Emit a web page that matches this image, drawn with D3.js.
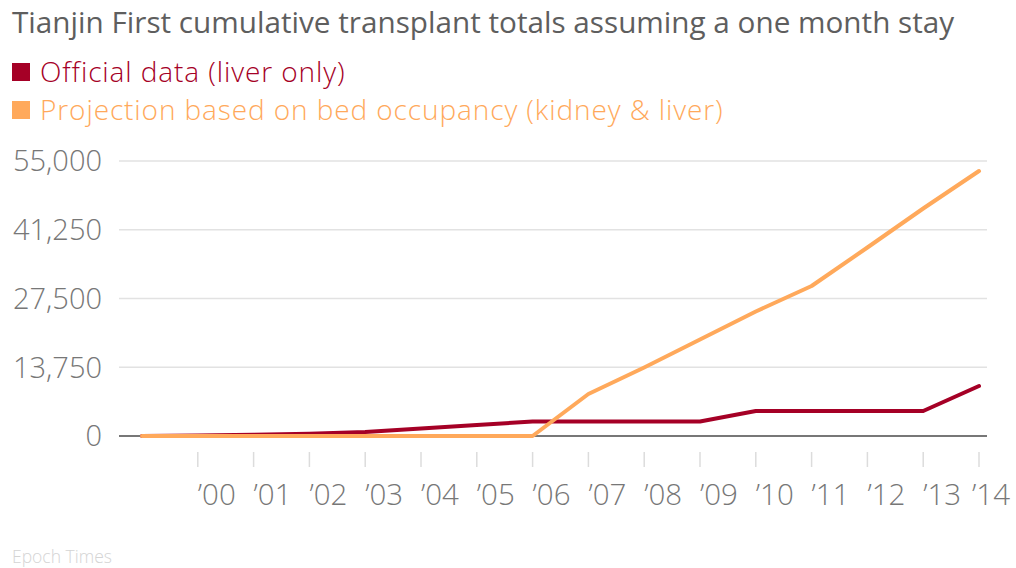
<!DOCTYPE html>
<html lang="en">
<head>
<meta charset="utf-8" />
<title>Tianjin First cumulative transplant totals</title>
<style>
  body { margin: 0; background: #fff; }
  svg text { font-family: "Open Sans", sans-serif; }
</style>
</head>
<body>
<div id="chart"></div>
<script src="https://d3js.org/d3.v7.min.js"></script>
<script>
  const years = [1999, 2000, 2001, 2002, 2003, 2004, 2005, 2006, 2007, 2008, 2009, 2010, 2011, 2012, 2013, 2014];
  const official = [0, 100, 250, 450, 800, 1500, 2200, 2900, 2900, 2900, 2900, 5000, 5000, 5000, 5000, 10000];
  const projection = [0, 0, 0, 0, 0, 0, 0, 0, 8400, 13700, 19300, 24900, 30000, 37700, 45500, 53000];
  const yTicks = [0, 13750, 27500, 41250, 55000];
  const xTicks = [2000, 2001, 2002, 2003, 2004, 2005, 2006, 2007, 2008, 2009, 2010, 2011, 2012, 2013, 2014];

  const width = 1016, height = 568;
  const red = "#a50026", orange = "#ffa95b";

  const svg = d3.select("#chart").append("svg")
      .attr("width", width)
      .attr("height", height);

  const x = d3.scaleLinear().domain([1999, 2014]).range([142, 979]);
  const y = d3.scaleLinear().domain([0, 55000]).range([436, 161]);

  // title + legend
  svg.append("text")
      .attr("x", 12).attr("y", 33)
      .attr("font-size", 29.7)
      .attr("fill", "#5e5e5e")
      .text("Tianjin First cumulative transplant totals assuming a one month stay");

  const legend = [
    { name: "Official data (liver only)", color: red },
    { name: "Projection based on bed occupancy (kidney & liver)", color: orange }
  ];
  const lg = svg.selectAll(".legend")
      .data(legend)
      .enter().append("g")
      .attr("transform", (d, i) => `translate(12, ${63 + i * 38})`);
  lg.append("rect")
      .attr("width", 18).attr("height", 18)
      .attr("fill", d => d.color);
  lg.append("text")
      .attr("x", 28).attr("y", 19)
      .attr("font-size", 28)
      .attr("font-weight", 300)
      .attr("letter-spacing", 0.9)
      .attr("fill", d => d.color)
      .text(d => d.name);

  // grid
  svg.selectAll(".grid")
      .data(yTicks.filter(d => d > 0))
      .enter().append("line")
      .attr("x1", 119).attr("x2", 987)
      .attr("y1", d => y(d)).attr("y2", d => y(d))
      .attr("stroke", "#e2e2e2")
      .attr("stroke-width", 1.5);

  svg.selectAll(".ylab")
      .data(yTicks)
      .enter().append("text")
      .attr("x", 102)
      .attr("y", d => y(d))
      .attr("dy", "0.36em")
      .attr("text-anchor", "end")
      .attr("font-size", 29)
      .attr("font-weight", 300)
      .attr("fill", "#777")
      .text(d3.format(","));

  // x ticks
  svg.selectAll(".xtick")
      .data(xTicks)
      .enter().append("line")
      .attr("x1", d => x(d)).attr("x2", d => x(d))
      .attr("y1", 452).attr("y2", 467)
      .attr("stroke", "#dcdcdc")
      .attr("stroke-width", 1.5);

  svg.selectAll(".xlab")
      .data(xTicks)
      .enter().append("text")
      .attr("x", d => x(d))
      .attr("y", 505)
      .attr("font-size", 29.5)
      .attr("font-weight", 300)
      .attr("fill", "#777")
      .text(d => "\u2019" + String(d).slice(2))
      .each(function () {
        const w = this.getComputedTextLength();
        const x0 = +this.getAttribute("x");
        if (x0 + w > width - 6) this.setAttribute("x", width - 6 - w);
      });

  // baseline
  svg.append("line")
      .attr("x1", 119).attr("x2", 987)
      .attr("y1", y(0)).attr("y2", y(0))
      .attr("stroke", "#4a4a4a")
      .attr("stroke-width", 1.5);

  const line = d3.line()
      .x((d, i) => x(years[i]))
      .y(d => y(d));

  [[official, red], [projection, orange]].forEach(([vals, c]) => {
    svg.append("path")
        .datum(vals)
        .attr("d", line)
        .attr("fill", "none")
        .attr("stroke", c)
        .attr("stroke-width", 4)
        .attr("stroke-linejoin", "round")
        .attr("stroke-linecap", "round");
  });

  svg.append("text")
      .attr("x", 12).attr("y", 563)
      .attr("font-size", 17.5)
      .attr("font-weight", 300)
      .attr("fill", "#d4d4d4")
      .text("Epoch Times");
</script>
</body>
</html>
